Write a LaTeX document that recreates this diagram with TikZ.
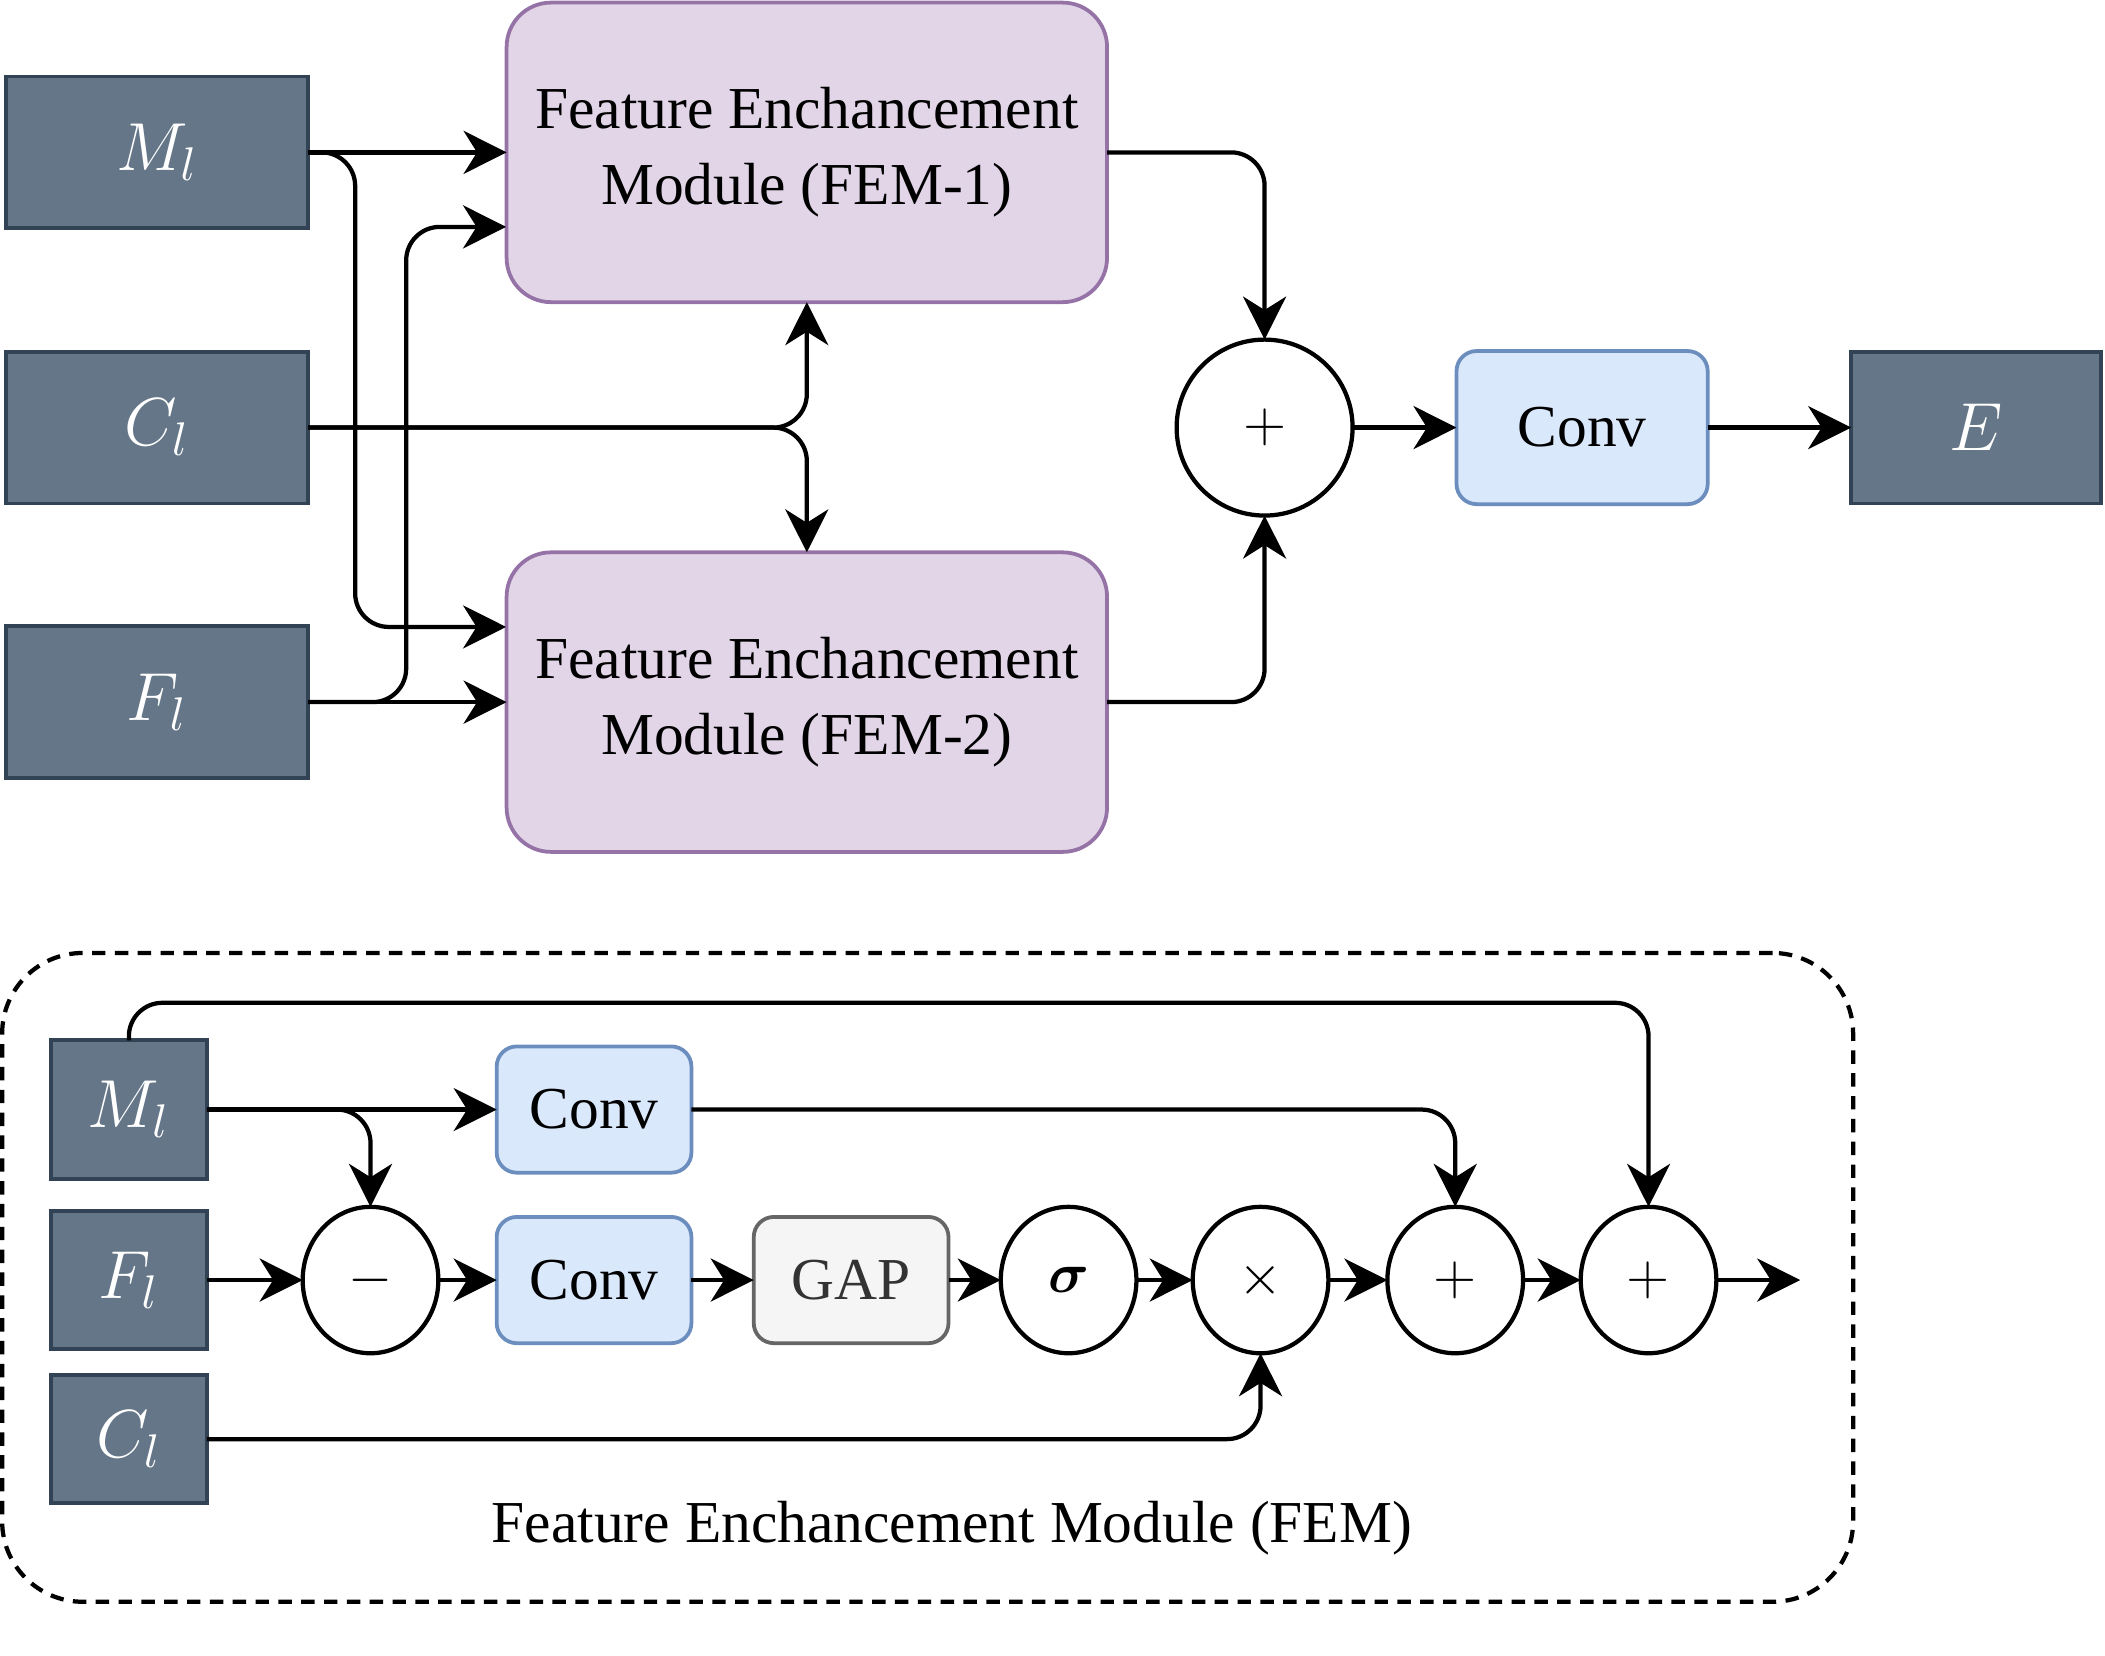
\documentclass[tikz,border=0pt]{standalone}
\usepackage{fontspec}
\setmainfont{Liberation Serif}
\usepackage{amssymb,amsmath}
\usetikzlibrary{arrows.meta,shapes.geometric}
\definecolor{slatefill}{HTML}{647687}
\definecolor{slateline}{HTML}{314354}
\definecolor{femfill}{HTML}{E1D5E7}
\definecolor{femline}{HTML}{9673A6}
\definecolor{convfill}{HTML}{DAE8FC}
\definecolor{convline}{HTML}{6C8EBF}
\definecolor{gapfill}{HTML}{F5F5F5}
\definecolor{gapline}{HTML}{666666}
\definecolor{gaptext}{HTML}{333333}

\begin{document}
\begin{tikzpicture}[x=0.01cm,y=-0.01cm]
\tikzstyle{every node}=[font=\fontsize{12.6}{16.2}\selectfont,inner sep=0pt,outer sep=0pt];
\tikzstyle{feat}=[draw=slateline,fill=slatefill,line width=0.8pt,text=white,font=\fontsize{13.6}{16}\selectfont,minimum width=2.25cm,minimum height=1.13cm];
\tikzstyle{featb}=[feat,minimum width=1.16cm,minimum height=1.03cm];
\tikzstyle{fem}=[draw=femline,fill=femfill,line width=0.8pt,rounded corners=0.33cm,minimum width=4.47cm,minimum height=2.23cm,align=center];
\tikzstyle{conv}=[draw=convline,fill=convfill,line width=0.8pt,rounded corners=0.15cm,minimum width=1.45cm,minimum height=0.94cm];
\tikzstyle{gap}=[draw=gapline,fill=gapfill,text=gaptext,line width=0.8pt,rounded corners=0.15cm,minimum width=1.45cm,minimum height=0.94cm];
\tikzstyle{op}=[draw,line width=0.9pt,shape=circle,minimum size=1.31cm];
\tikzstyle{opb}=[draw,line width=0.9pt,shape=ellipse,minimum width=1.01cm,minimum height=1.09cm];
\tikzstyle{arr}=[line width=0.9pt,-{Stealth[length=0.32cm,width=0.32cm,inset=0.1cm]},rounded corners=0.25cm];
\useasboundingbox (0,0) rectangle (1568,1233);

\node [feat](m1) at (117,113.5) {$M_l$};
\node [feat](c1) at (117,318.5) {$C_l$};
\node [feat](f1) at (117,523) {$F_l$};
\node [fem](fem1) at (601,113.5) {Feature Enchancement\\Module (FEM-1)};
\node [fem](fem2) at (601,523) {Feature Enchancement\\Module (FEM-2)};
\node [op](plus) at (942,318.5) {$+$};
\node [conv,minimum width=1.87cm,minimum height=1.14cm](conv) at (1178.5,318.5) {Conv};
\node [feat,minimum width=1.86cm](e) at (1472,318.5) {$E$};
\coordinate (fem1in) at (377,169);
\coordinate (fem2in) at (377,467);

\draw [arr] (m1) -- (fem1);
\draw [arr] (m1.east) -- ++(35,0) |- (fem2in);
\draw [arr] (f1) -- (fem2);
\draw [arr] (f1.east) -- ++(73,0) |- (fem1in);
\draw [arr] (c1.east) -| (fem1.south);
\draw [arr] (c1.east) -| (fem2.north);
\draw [arr] (fem1.east) -| (plus.north);
\draw [arr] (fem2.east) -| (plus.south);
\draw [arr] (plus) -- (conv);
\draw [arr] (conv) -- (e);

\node [draw,line width=0.9pt,dash pattern=on 0.1cm off 0.07cm,rounded corners=0.6cm,minimum width=13.78cm,minimum height=4.83cm](frame) at (691,951.5) {};
\node (framelabel) at (709,1138) {Feature Enchancement Module (FEM)};

\node [featb](m2) at (96,826.5) {$M_l$};
\node [featb](f2) at (96,953.5) {$F_l$};
\node [featb,minimum height=0.95cm](c2) at (96,1072) {$C_l$};
\node [conv](conva) at (442.5,826.5) {Conv};
\node [opb](minus) at (276,953.5) {$-$};
\node [conv](convb) at (442.5,953.5) {Conv};
\node [gap](gap) at (634,953.5) {GAP};
\node [opb](sig) at (796,953.5) {$\boldsymbol{\sigma}$};
\node [opb](mul) at (939,953.5) {$\times$};
\node [opb](add1) at (1084,953.5) {$+$};
\node [opb](add2) at (1228,953.5) {$+$};
\coordinate (out) at (1341,953.5);

\draw [arr] (f2) -- (minus);
\draw [arr] (minus) -- (convb);
\draw [arr] (convb) -- (gap);
\draw [arr] (gap) -- (sig);
\draw [arr] (sig) -- (mul);
\draw [arr] (mul) -- (add1);
\draw [arr] (add1) -- (add2);
\draw [arr] (add2) -- (out);
\draw [arr] (m2) -- (conva);
\draw [arr] (m2.east) -| (minus.north);
\draw [arr] (conva.east) -| (add1.north);
\draw [arr] (m2.north) -- ++(0,-28) -| (add2.north);
\draw [arr] (c2.east) -| (mul.south);
\end{tikzpicture}
\end{document}
